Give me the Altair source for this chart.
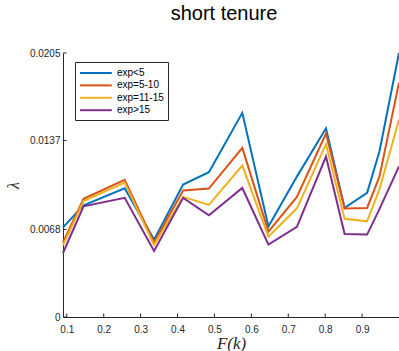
import altair as alt
import pandas as pd

# F(k) positions of the estimates
f_k = [0.0897, 0.1454, 0.2568, 0.3364, 0.4152, 0.4850, 0.5755,
       0.6462, 0.7234, 0.8022, 0.8527, 0.9136, 0.9470, 1.0]

# lambda estimates per experience group
exp_lt5 = [0.00696, 0.00867, 0.00999, 0.00601, 0.01028, 0.01124, 0.01585,
           0.00702, 0.01090, 0.01465, 0.00847, 0.00964, 0.01285, 0.02050]
exp_5_10 = [0.00580, 0.00918, 0.01065, 0.00580, 0.00983, 0.00997, 0.01313,
            0.00663, 0.00933, 0.01425, 0.00842, 0.00847, 0.01090, 0.01820]
exp_11_15 = [0.00556, 0.00901, 0.01043, 0.00560, 0.00933, 0.00870, 0.01176,
             0.00624, 0.00844, 0.01342, 0.00762, 0.00743, 0.00990, 0.01533]
exp_gt15 = [0.00497, 0.00859, 0.00925, 0.00513, 0.00925, 0.00790, 0.01002,
            0.00562, 0.00700, 0.01246, 0.00645, 0.00640, 0.00838, 0.01170]

series_names = ["exp<5", "exp=5-10", "exp=11-15", "exp>15"]
series_colors = ["#0072BD", "#D95319", "#EDB120", "#7E2F8E"]

y_ticks = [0, 0.0068, 0.0137, 0.0205]
x_ticks = [0.1, 0.2, 0.3, 0.4, 0.5, 0.6, 0.7, 0.8, 0.9]

rows = []
for name, vals in zip(series_names, [exp_lt5, exp_5_10, exp_11_15, exp_gt15]):
    for i, (fx, lam) in enumerate(zip(f_k, vals)):
        rows.append({"F": fx, "lam": lam, "group": name, "idx": i})
df = pd.DataFrame(rows)

W, H = 336, 264
AXIS_COLOR = "#262626"
TICK_LEN = 3.5

x_scale = alt.Scale(domain=[f_k[0], f_k[-1]], nice=False, zero=False)
y_scale = alt.Scale(domain=[0, y_ticks[-1]], nice=False, zero=True)

x_axis = alt.Axis(values=x_ticks, format=".1f", title="F(k)",
                  ticks=False, grid=False, labelPadding=7,
                  labelFont="Liberation Sans", labelFontSize=10,
                  labelColor=AXIS_COLOR, domainColor=AXIS_COLOR,
                  titleFont="Liberation Serif", titleFontStyle="italic",
                  titleFontWeight="normal", titleFontSize=17,
                  titleColor=AXIS_COLOR, titlePadding=1)
y_axis = alt.Axis(values=y_ticks, title="λ", ticks=False, grid=False,
                  labelExpr="datum.value == 0 ? '0' : format(datum.value, '.4f')",
                  labelPadding=3, labelFont="Liberation Sans",
                  labelFontSize=10, labelColor=AXIS_COLOR,
                  domainColor=AXIS_COLOR,
                  titleFont="Liberation Serif", titleFontStyle="italic",
                  titleFontWeight="normal", titleFontSize=16, titleAngle=270,
                  titleColor=AXIS_COLOR, titlePadding=8)

lines = alt.Chart(df).mark_line(strokeWidth=2).encode(
    x=alt.X("F:Q", scale=x_scale, axis=x_axis),
    y=alt.Y("lam:Q", scale=y_scale, axis=y_axis),
    color=alt.Color("group:N",
                    scale=alt.Scale(domain=series_names, range=series_colors),
                    legend=alt.Legend(title=None, orient="none",
                                      legendX=12, legendY=9,
                                      symbolType="M-1,0H4.3", symbolSize=144,
                                      symbolStrokeWidth=2, labelOffset=24,
                                      labelFont="Liberation Sans",
                                      labelFontSize=10, labelColor="black",
                                      padding=4, rowPadding=0.4,
                                      strokeColor=AXIS_COLOR, fillColor="white")),
    order="idx:Q",
)

y_tick_df = pd.DataFrame({"lam": y_ticks})
x_tick_df = pd.DataFrame({"F": x_ticks})

# inward tick marks
y_tick_marks = alt.Chart(y_tick_df).mark_rule(color=AXIS_COLOR, strokeWidth=1).encode(
    y=alt.Y("lam:Q", scale=y_scale, axis=y_axis),
    x=alt.value(0), x2=alt.value(TICK_LEN),
)
x_tick_marks = alt.Chart(x_tick_df).mark_rule(color=AXIS_COLOR, strokeWidth=1).encode(
    x=alt.X("F:Q", scale=x_scale, axis=x_axis),
    y=alt.value(H), y2=alt.value(H - TICK_LEN),
)

chart = alt.layer(lines, y_tick_marks, x_tick_marks).properties(
    width=W, height=H,
    title=alt.TitleParams("short tenure", font="Liberation Sans", fontSize=20,
                          fontWeight="normal", color="black", frame="group",
                          anchor="middle", dx=-7, offset=24),
    autosize=alt.AutoSizeParams(type="none"),
    padding={"left": 63, "top": 53, "right": 0, "bottom": 34},
).configure_view(stroke=None)

chart.save("out.html", embed_options={"renderer": "svg", "actions": False})
